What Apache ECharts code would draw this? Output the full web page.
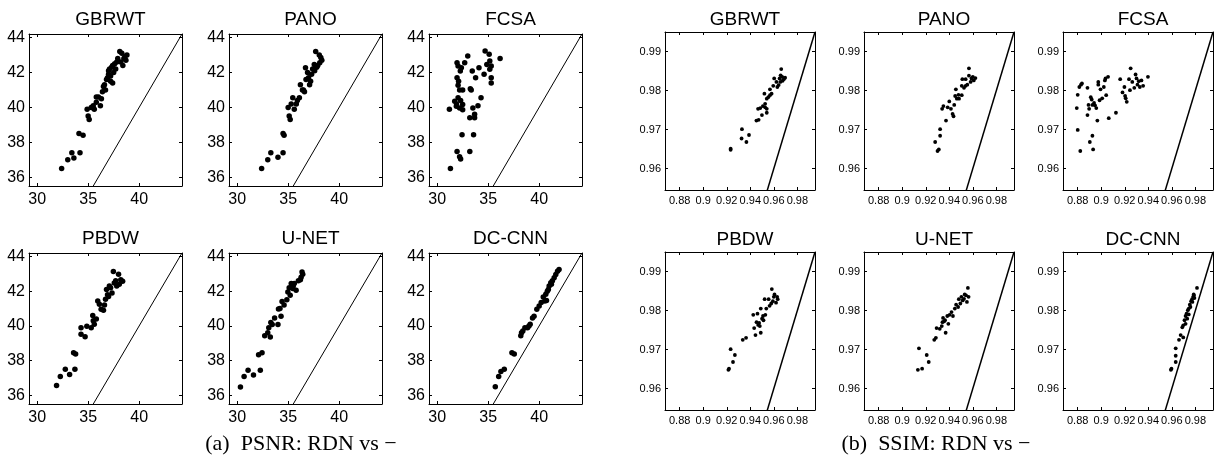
<!DOCTYPE html>
<html><head><meta charset="utf-8">
<script src="https://cdn.jsdelivr.net/npm/echarts@6/dist/echarts.min.js"></script>
<style>html,body{margin:0;padding:0;background:#fff}#c{width:1222px;height:462px}</style>
</head><body><div id="c"></div><script>
const methods = ['GBRWT','PANO','FCSA','PBDW','U-NET','DC-CNN'];
const psnrTicksX = [30,35,40];
const psnrTicksY = [36,38,40,42,44];
const ssimTicksX = [0.88,0.9,0.92,0.94,0.96,0.98];
const ssimTicksY = [0.96,0.97,0.98,0.99];
const psnrRangeX = [29.2,44.2];
const psnrRangeY = [35.5,44.2];
const ssimRangeX = [0.8675,0.995];
const ssimRangeY = [0.9545,0.995];
const captionA = '(a)  PSNR: RDN vs \u2212';
const captionB = '(b)  SSIM: RDN vs \u2212';

// PSNR: [method PSNR, RDN PSNR]
const psnrGBRWT = [[32.4,36.5],[33.0,37.0],[33.4,37.4],[33.6,37.1],[34.2,37.4],[34.1,38.5],[34.5,38.4],[34.9,39.9],[35.0,39.5],[35.1,39.3],[35.3,40.0],[35.5,40.1],[35.6,39.9],[35.8,40.3],[35.8,40.6],[36.0,40.6],[36.2,40.1],[36.3,40.5],[36.4,40.9],[36.6,41.3],[36.7,41.0],[36.8,41.6],[37.0,42.1],[37.0,41.9],[37.1,42.2],[37.2,41.8],[37.2,41.5],[37.4,42.4],[37.4,41.4],[37.5,42.0],[37.6,42.5],[37.8,42.6],[37.9,42.8],[38.1,43.2],[38.3,43.1],[38.4,42.4],[38.6,42.9],[38.7,42.7],[38.8,43.0],[36.5,41.2],[36.9,41.7],[37.3,42.3],[37.7,42.2],[38.2,42.6],[38.5,42.8]];
const psnrPANO = [[32.4,36.5],[33.0,37.0],[33.3,37.4],[34.0,37.15],[34.5,37.4],[34.5,38.5],[34.6,38.4],[35.0,40.0],[35.1,39.5],[35.2,39.3],[35.45,40.55],[35.6,39.9],[35.8,40.2],[35.3,40.2],[36.1,40.55],[36.2,41.3],[36.4,41.0],[36.6,40.9],[36.7,42.27],[36.75,41.6],[36.9,42.0],[37.0,41.7],[37.2,41.5],[37.1,41.3],[37.4,42.2],[37.3,41.9],[37.56,42.46],[37.7,43.2],[37.8,42.3],[38.05,43.0],[38.2,42.85],[38.3,42.7],[38.1,42.55],[37.9,42.4],[37.6,42.1],[36.5,41.0],[35.9,40.4]];
const psnrFCSA = [[31.3,36.5],[31.2,39.9],[31.95,42.56],[32.05,42.37],[31.95,41.7],[32.05,41.26],[32.2,41.0],[32.27,42.08],[32.37,42.27],[31.95,37.47],[32.2,37.18],[32.3,37.05],[32.44,38.43],[31.72,40.35],[31.88,40.06],[32.05,40.55],[32.2,39.97],[32.5,40.16],[32.5,39.87],[32.7,42.56],[32.5,41.0],[33.0,42.94],[33.2,37.47],[33.2,39.4],[33.25,41.06],[33.34,41.0],[33.44,42.08],[33.5,39.97],[33.67,39.6],[33.67,39.4],[33.57,38.43],[33.77,41.7],[34.0,40.1],[34.1,42.27],[34.3,40.55],[34.6,41.9],[34.7,43.23],[34.87,42.46],[35.1,43.04],[35.16,42.66],[35.16,42.18],[35.3,42.37],[35.3,41.7],[35.3,41.4],[36.17,42.8],[32.1,41.5],[32.3,40.4],[31.9,40.2]];
const psnrPBDW = [[31.9,36.57],[32.27,37.08],[32.76,37.5],[33.18,37.2],[33.7,37.5],[33.57,38.45],[33.77,38.38],[34.3,39.89],[34.3,39.52],[34.7,39.37],[34.87,39.98],[35.3,39.89],[35.45,40.6],[35.6,40.1],[35.8,40.4],[35.94,41.43],[36.1,41.25],[36.27,40.96],[36.5,40.9],[36.7,41.53],[36.8,42.1],[37.0,41.7],[37.08,42.3],[37.34,41.9],[37.47,43.13],[37.56,42.47],[37.8,42.3],[37.98,42.98],[38.2,42.66],[38.38,42.57],[38.05,42.4],[36.9,41.8],[37.2,42.2],[36.6,41.2],[35.5,40.3],[37.7,42.6]];
const psnrUNET = [[30.32,36.48],[30.68,37.08],[31.07,37.45],[31.6,37.17],[32.27,37.45],[32.1,38.34],[32.44,38.45],[32.7,39.43],[33.0,39.6],[33.25,39.36],[33.1,39.89],[33.44,40.08],[33.67,40.45],[34.0,40.08],[34.05,40.98],[34.3,40.55],[34.4,41.4],[34.6,41.2],[34.87,41.5],[34.97,41.96],[35.2,41.77],[35.3,42.44],[35.45,42.15],[35.6,42.44],[35.78,42.06],[36.0,42.6],[36.27,42.8],[36.36,43.1],[36.43,42.98],[36.2,42.66],[33.3,40.2],[34.2,41.0],[35.1,42.2],[35.5,42.3]];
const psnrDCCNN = [[35.7,36.5],[36.03,37.08],[36.25,37.37],[36.58,37.5],[37.33,38.45],[37.56,38.38],[38.2,39.43],[38.27,39.6],[38.6,39.9],[38.86,39.9],[39.12,40.1],[39.35,40.45],[39.5,40.55],[39.77,40.96],[40.0,41.15],[40.2,41.35],[40.4,41.67],[40.55,41.43],[40.65,41.83],[40.8,42.0],[40.98,42.3],[41.14,42.49],[41.3,42.6],[41.47,42.77],[41.63,42.96],[41.8,43.15],[41.95,43.25],[40.72,41.47],[38.4,39.7],[39.0,40.0],[40.9,42.1],[41.2,42.4]];

// SSIM: [method SSIM, RDN SSIM]
const ssimGBRWT = [[0.9233,0.9648],[0.9233,0.9651],[0.9326,0.9677],[0.9367,0.9668],[0.9389,0.9686],[0.9329,0.9701],[0.9452,0.9723],[0.9471,0.9725],[0.9499,0.9737],[0.954,0.9743],[0.9466,0.9753],[0.9485,0.9755],[0.9507,0.976],[0.9526,0.9766],[0.952,0.9792],[0.954,0.9779],[0.9553,0.9783],[0.9567,0.9788],[0.9581,0.9792],[0.9567,0.9803],[0.9595,0.9812],[0.9603,0.9831],[0.9622,0.9822],[0.963,0.9809],[0.9649,0.9831],[0.9658,0.9839],[0.9663,0.9855],[0.9671,0.9835],[0.9685,0.9829],[0.9696,0.9833],[0.9641,0.9814],[0.9526,0.9757],[0.954,0.9753],[0.9675,0.9825],[0.9655,0.9822]];
const ssimPANO = [[0.928,0.9668],[0.93,0.9645],[0.9311,0.9649],[0.9322,0.9684],[0.9322,0.9701],[0.9339,0.9753],[0.935,0.976],[0.9372,0.9723],[0.9386,0.9757],[0.94,0.9772],[0.9414,0.9753],[0.9428,0.974],[0.9436,0.9734],[0.9442,0.9763],[0.9456,0.9803],[0.945,0.9786],[0.9464,0.9779],[0.9478,0.9789],[0.9483,0.9779],[0.9506,0.9788],[0.9511,0.9829],[0.9506,0.9812],[0.9525,0.9807],[0.9539,0.9829],[0.9553,0.9815],[0.9567,0.9857],[0.9567,0.9838],[0.9581,0.9822],[0.9589,0.9831],[0.96,0.9835],[0.9608,0.9826],[0.9622,0.9832],[0.9539,0.9812]];
const ssimFCSA = [[0.8792,0.9755],[0.88,0.9699],[0.88,0.9789],[0.8814,0.9809],[0.8828,0.9815],[0.8836,0.9818],[0.8822,0.9645],[0.8883,0.9807],[0.8883,0.9737],[0.8892,0.9763],[0.8897,0.9753],[0.8903,0.9668],[0.8911,0.9783],[0.8919,0.9777],[0.8925,0.9684],[0.8931,0.9649],[0.8925,0.9763],[0.8939,0.9768],[0.8947,0.9762],[0.8958,0.9755],[0.8967,0.9723],[0.8975,0.9822],[0.8975,0.9815],[0.8986,0.9775],[0.8994,0.9803],[0.9008,0.978],[0.9022,0.9809],[0.9031,0.9826],[0.9036,0.9831],[0.9042,0.9788],[0.9058,0.9835],[0.9064,0.9729],[0.9125,0.9743],[0.9161,0.9829],[0.9181,0.9795],[0.9197,0.9809],[0.9203,0.9786],[0.9208,0.978],[0.9217,0.9771],[0.9236,0.9829],[0.9244,0.9801],[0.925,0.9857],[0.9264,0.9822],[0.9281,0.9807],[0.9292,0.9841],[0.93,0.9831],[0.9308,0.9815],[0.9319,0.9824],[0.9328,0.9809],[0.9342,0.9826],[0.9356,0.9812],[0.9397,0.9835]];
const ssimPBDW = [[0.9214,0.9648],[0.9219,0.9651],[0.9233,0.9701],[0.9253,0.9668],[0.9269,0.9686],[0.9336,0.9725],[0.9364,0.973],[0.9425,0.9789],[0.9433,0.9755],[0.9444,0.9737],[0.9453,0.977],[0.9461,0.9792],[0.9467,0.9763],[0.9481,0.976],[0.9489,0.9805],[0.9489,0.9743],[0.95,0.9779],[0.9508,0.9786],[0.9522,0.9829],[0.9528,0.9789],[0.9536,0.9805],[0.9556,0.9829],[0.9564,0.9812],[0.9578,0.9818],[0.9583,0.9855],[0.9592,0.9824],[0.96,0.9835],[0.9606,0.9841],[0.9619,0.982],[0.9628,0.9835],[0.9633,0.9829],[0.9475,0.9768],[0.9512,0.9775]];
const ssimUNET = [[0.9133,0.9648],[0.9169,0.9651],[0.9142,0.9703],[0.9208,0.9686],[0.9225,0.9668],[0.9272,0.9725],[0.9286,0.973],[0.9292,0.9755],[0.9319,0.9753],[0.9336,0.976],[0.9342,0.977],[0.9347,0.9781],[0.9364,0.9775],[0.9369,0.9743],[0.9383,0.9786],[0.9392,0.9766],[0.9403,0.9789],[0.9419,0.9796],[0.9431,0.9786],[0.9447,0.9805],[0.9458,0.9815],[0.9475,0.9809],[0.9481,0.9829],[0.9494,0.9818],[0.9503,0.9835],[0.9514,0.9826],[0.9531,0.9841],[0.9542,0.9839],[0.9558,0.9858],[0.9564,0.9835],[0.955,0.9822],[0.9355,0.9772],[0.9525,0.983]];
const ssimDCCNN = [[0.9592,0.9648],[0.9597,0.9651],[0.9633,0.9684],[0.9633,0.9668],[0.9633,0.9703],[0.9661,0.9725],[0.9675,0.9737],[0.9697,0.9731],[0.9689,0.9757],[0.9697,0.9762],[0.9708,0.9775],[0.9717,0.9786],[0.9717,0.9766],[0.9725,0.9792],[0.9731,0.9779],[0.9736,0.9801],[0.9744,0.9805],[0.9753,0.9815],[0.9758,0.9809],[0.9764,0.9824],[0.9772,0.9829],[0.9781,0.9835],[0.9786,0.9841],[0.9792,0.9832],[0.9814,0.9858],[0.9744,0.979],[0.9775,0.9822],[0.9788,0.9838]];

const psnrSets = [psnrGBRWT, psnrPANO, psnrFCSA, psnrPBDW, psnrUNET, psnrDCCNN];
const ssimSets = [ssimGBRWT, ssimPANO, ssimFCSA, ssimPBDW, ssimUNET, ssimDCCNN];

const grid = [], xAxis = [], yAxis = [], series = [], title = [];
let gi = 0;
function panel(left, top, w, h, xr, yr, xt, yt, data, name, o) {
  grid.push({left: left, top: top, width: w, height: h});
  const line = {show: true, onZero: false, lineStyle: {color: '#000', width: 1}};
  const tick = (vals) => ({show: true, inside: true, length: 3, customValues: vals, lineStyle: {color: '#000', width: 1}});
  const lab = (vals, m) => ({show: true, customValues: vals, color: '#000', fontSize: o.fs, fontFamily: 'Liberation Sans, Arial, sans-serif', margin: m});
  xAxis.push({type: 'value', gridIndex: gi, min: xr[0], max: xr[1], position: 'bottom', axisLine: line, axisTick: tick(xt), axisLabel: lab(xt, o.mx), splitLine: {show: false}});
  xAxis.push({type: 'value', gridIndex: gi, min: xr[0], max: xr[1], position: 'top', axisLine: line, axisTick: tick(xt), axisLabel: {show: false}, splitLine: {show: false}});
  yAxis.push({type: 'value', gridIndex: gi, min: yr[0], max: yr[1], position: 'left', axisLine: line, axisTick: tick(yt), axisLabel: lab(yt, o.my), splitLine: {show: false}});
  yAxis.push({type: 'value', gridIndex: gi, min: yr[0], max: yr[1], position: 'right', axisLine: line, axisTick: tick(yt), axisLabel: {show: false}, splitLine: {show: false}});
  series.push({type: 'line', xAxisIndex: 2 * gi, yAxisIndex: 2 * gi, data: [[xr[0], xr[0]], [xr[1], xr[1]]], symbol: 'none', clip: true, lineStyle: {color: '#000', width: o.lw}, silent: true, z: 2});
  series.push({type: 'scatter', xAxisIndex: 2 * gi, yAxisIndex: 2 * gi, data: data, symbolSize: o.ss, itemStyle: {color: '#000', opacity: 1}, silent: true, z: 3});
  title.push({text: name, left: left + w / 2, top: top - o.tdy, textAlign: 'center', textStyle: {fontSize: o.tfs, fontWeight: 'normal', color: '#000', fontFamily: 'Liberation Sans, Arial, sans-serif'}});
  gi++;
}
const psnrLefts = [29, 229, 429], psnrTops = [34, 253], psnrH = [152, 151];
const ssimLefts = [665, 864, 1063], ssimTops = [32, 252];
for (let r = 0; r < 2; r++) for (let c = 0; c < 3; c++) {
  const k = r * 3 + c;
  panel(psnrLefts[c], psnrTops[r], 153, psnrH[r], psnrRangeX, psnrRangeY, psnrTicksX, psnrTicksY, psnrSets[k], methods[k], {fs: 16, mx: 6, my: 4, ss: 5.5, lw: 1, tfs: 19, tdy: 29});
}
for (let r = 0; r < 2; r++) for (let c = 0; c < 3; c++) {
  const k = r * 3 + c;
  panel(ssimLefts[c], ssimTops[r], 150, 158, ssimRangeX, ssimRangeY, ssimTicksX, ssimTicksY, ssimSets[k], methods[k], {fs: 11, mx: 5, my: 4, ss: 3.8, lw: 1.5, tfs: 19, tdy: 27});
}
title.push({text: captionA, left: 296, top: 428, textAlign: 'center', textStyle: {fontSize: 22, fontWeight: 'normal', color: '#000', fontFamily: 'Liberation Serif, Times New Roman, serif'}});
title.push({text: captionB, left: 931, top: 428, textAlign: 'center', textStyle: {fontSize: 22, fontWeight: 'normal', color: '#000', fontFamily: 'Liberation Serif, Times New Roman, serif'}});

const chart = echarts.init(document.getElementById('c'), null, {renderer: 'canvas'});
chart.setOption({animation: false, backgroundColor: '#fff', title: title, grid: grid, xAxis: xAxis, yAxis: yAxis, series: series});
</script></body></html>
